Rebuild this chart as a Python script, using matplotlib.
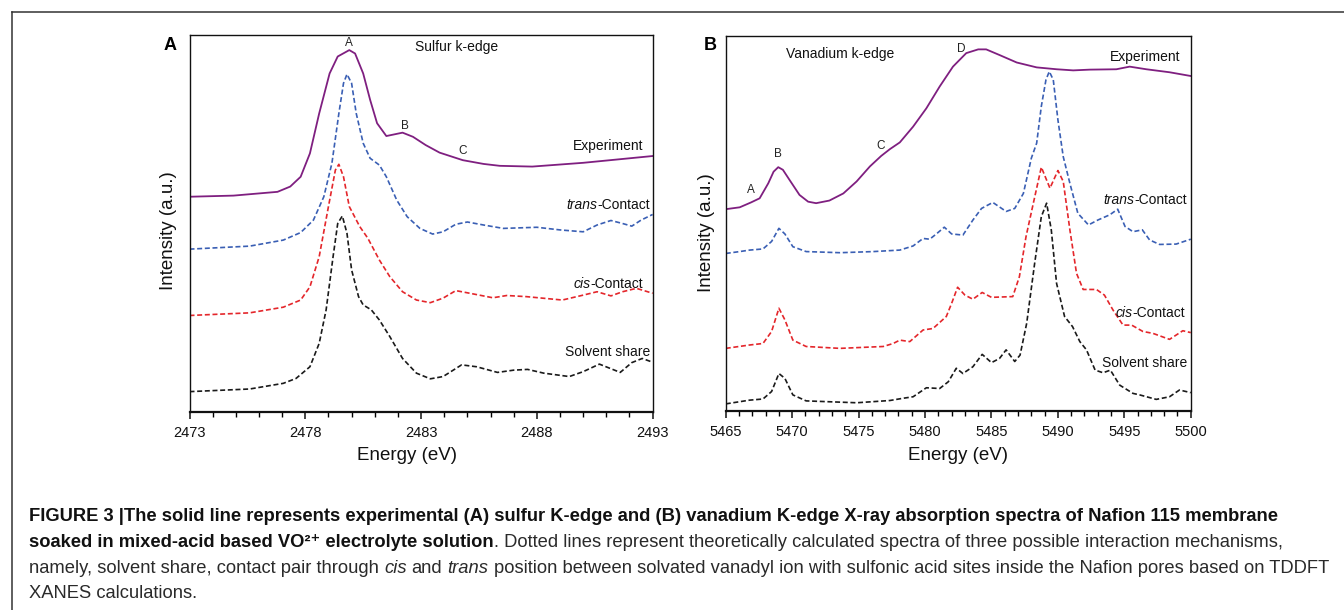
import matplotlib
matplotlib.use("Agg")
import matplotlib.pyplot as plt
from matplotlib.lines import Line2D
from matplotlib.ticker import MultipleLocator

plt.rcParams['font.family'] = ['Liberation Sans', 'DejaVu Sans']

# ---- panel A: sulfur K-edge (energy in eV, intensity in a.u. with offsets)
s_exp_e = [2473, 2474.9, 2476.8, 2477.35, 2477.8, 2478.2, 2478.6, 2479.05, 2479.4, 2479.9,
           2480.15, 2480.5, 2480.8, 2481.1, 2481.5, 2482.2, 2482.65, 2483.2, 2483.8, 2484.8,
           2485.7, 2486.4, 2487.8, 2490.0, 2493]
s_exp_i = [57.1, 57.4, 58.4, 59.8, 62.4, 68.6, 79.2, 89.8, 94.3, 96.0,
           95.1, 89.8, 82.8, 76.6, 73.2, 74.1, 73.0, 70.8, 68.8, 66.8,
           65.8, 65.3, 65.1, 66.1, 67.9]

s_trans_e = [2473, 2475.6, 2477.05, 2477.8, 2478.35, 2478.8, 2479.15, 2479.45, 2479.65, 2479.8,
             2480.0, 2480.2, 2480.5, 2480.8, 2481.2, 2481.5, 2481.95, 2482.4, 2482.95, 2483.5,
             2483.95, 2484.5, 2485.0, 2485.7, 2486.55, 2488.0, 2489.0, 2490.0, 2490.6, 2491.2,
             2491.7, 2492.1, 2492.5, 2493]
s_trans_i = [43.2, 44.0, 45.6, 47.6, 50.9, 57.1, 66.0, 79.2, 87.2, 89.6,
             87.2, 79.2, 71.3, 67.3, 65.5, 62.4, 56.2, 51.8, 48.7, 47.2,
             47.8, 49.8, 50.4, 49.6, 48.7, 49.0, 48.3, 47.8, 49.6, 50.8,
             50.0, 49.3, 50.9, 52.4]

s_cis_e = [2473, 2475.6, 2477.05, 2477.8, 2478.2, 2478.6, 2479.0, 2479.3, 2479.45, 2479.65,
           2479.9, 2480.35, 2480.7, 2481.2, 2481.65, 2482.2, 2482.8, 2483.4, 2483.95, 2484.5,
           2485.1, 2486.1, 2486.7, 2487.55, 2489.1, 2490.0, 2490.6, 2491.2, 2491.7, 2492.3, 2493]
s_cis_i = [25.6, 26.3, 27.8, 29.7, 33.2, 41.2, 54.5, 64.2, 65.7, 62.4,
           54.5, 49.2, 46.1, 40.3, 35.9, 31.9, 29.7, 29.0, 30.2, 32.2,
           31.5, 30.3, 30.9, 30.6, 29.7, 31.0, 31.9, 30.8, 31.9, 32.8, 31.5]

s_solv_e = [2473, 2475.6, 2477.05, 2477.6, 2478.2, 2478.6, 2478.9, 2479.2, 2479.4, 2479.6,
            2479.8, 2480.0, 2480.3, 2480.5, 2480.85, 2481.2, 2481.65, 2482.2, 2482.8, 2483.4,
            2483.95, 2484.75, 2485.4, 2486.3, 2487.0, 2487.6, 2488.3, 2489.4, 2490.0, 2490.7,
            2491.6, 2492.1, 2492.55, 2493]
s_solv_i = [5.4, 6.1, 7.6, 8.9, 12.0, 18.2, 27.1, 41.2, 50.0, 52.0,
            47.4, 37.7, 30.6, 28.4, 27.1, 24.4, 20.0, 14.2, 10.3, 8.8,
            9.4, 12.5, 12.0, 10.5, 11.1, 11.3, 10.3, 9.4, 10.7, 12.7,
            10.5, 13.1, 14.2, 13.2]

# ---- panel B: vanadium K-edge
v_exp_e = [5465, 5466.05, 5466.9, 5467.55, 5468.2, 5468.6, 5468.95, 5469.3, 5469.8, 5470.55,
           5471.2, 5471.8, 5472.8, 5473.85, 5474.85, 5475.85, 5476.7, 5477.35, 5478.1, 5479.1,
           5480.1, 5481.1, 5482.1, 5483.1, 5484.0, 5484.6, 5485.6, 5486.9, 5488.4, 5489.9,
           5491.15, 5492.4, 5494.4, 5495.4, 5496.65, 5498.4, 5500]
v_exp_i = [53.8, 54.3, 55.6, 56.7, 60.7, 63.8, 65.0, 64.3, 61.6, 57.6,
           55.8, 55.4, 56.1, 58.0, 61.2, 65.2, 68.0, 69.8, 71.6, 75.8,
           80.7, 86.5, 91.8, 95.4, 96.4, 96.4, 94.9, 92.9, 91.6, 91.1,
           90.8, 91.0, 91.1, 91.8, 91.1, 90.3, 89.3]

v_trans_e = [5465, 5466.05, 5466.8, 5467.8, 5468.45, 5469.0, 5469.45, 5470.05, 5471.05, 5473.6,
             5476.1, 5478.1, 5479.1, 5479.85, 5480.35, 5480.85, 5481.45, 5482.0, 5482.85, 5483.6,
             5484.25, 5485.1, 5486.1, 5486.75, 5487.4, 5488.0, 5488.4, 5488.75, 5489.1, 5489.35,
             5489.65, 5490.0, 5490.4, 5490.9, 5491.5, 5492.3, 5493.0, 5493.9, 5494.5, 5495.05,
             5495.65, 5496.35, 5496.9, 5497.65, 5498.9, 5500]
v_trans_i = [42.0, 42.5, 42.9, 43.2, 45.2, 48.7, 47.2, 43.8, 42.5, 42.2,
             42.5, 42.9, 44.0, 46.0, 45.8, 47.2, 49.0, 47.2, 46.9, 50.9,
             54.0, 55.6, 53.2, 54.0, 58.0, 67.4, 71.4, 81.2, 88.3, 90.5,
             88.3, 77.6, 67.8, 60.7, 52.7, 49.6, 50.9, 52.3, 53.8, 49.2,
             47.8, 48.3, 45.6, 44.4, 44.5, 45.8]

v_cis_e = [5465, 5466.8, 5467.8, 5468.45, 5469.0, 5469.45, 5470.05, 5471.05, 5473.6, 5476.85,
           5477.6, 5478.1, 5478.85, 5479.85, 5480.6, 5481.6, 5482.0, 5482.45, 5483.0, 5483.6,
           5484.3, 5485.0, 5486.6, 5487.1, 5487.6, 5488.15, 5488.75, 5489.4, 5490.0, 5490.4,
           5490.9, 5491.4, 5491.9, 5492.9, 5493.5, 5494.15, 5494.9, 5495.55, 5496.4, 5497.15,
           5498.4, 5499.4, 5500]
v_cis_i = [16.7, 17.6, 18.0, 21.2, 27.4, 24.3, 18.9, 17.2, 16.7, 17.2,
           18.0, 18.9, 18.5, 21.6, 22.0, 25.2, 28.7, 33.0, 30.9, 29.8,
           31.6, 30.3, 30.5, 35.8, 46.5, 55.4, 65.0, 59.4, 64.1, 61.2,
           48.3, 36.7, 32.4, 32.4, 30.9, 26.9, 22.9, 22.9, 21.2, 20.7,
           19.1, 21.4, 20.9]

v_solv_e = [5465, 5466.8, 5467.8, 5468.45, 5469.0, 5469.45, 5470.05, 5471.05, 5474.85, 5477.35,
            5478.35, 5479.1, 5480.1, 5481.1, 5481.75, 5482.35, 5482.85, 5483.6, 5484.3, 5485.0,
            5485.6, 5486.1, 5486.75, 5487.15, 5487.65, 5488.25, 5488.75, 5489.15, 5489.5, 5489.9,
            5490.5, 5491.1, 5491.65, 5492.15, 5492.8, 5493.4, 5493.95, 5494.65, 5495.65, 5496.15,
            5497.4, 5498.4, 5499.15, 5500]
v_solv_i = [1.9, 2.9, 3.2, 5.2, 10.0, 8.7, 4.3, 2.7, 2.2, 2.8,
            3.4, 3.8, 6.2, 6.0, 7.8, 11.4, 10.0, 11.8, 15.1, 12.9,
            14.0, 16.3, 13.2, 14.9, 23.4, 39.4, 51.8, 55.4, 48.3, 34.0,
            25.2, 22.5, 18.5, 16.3, 10.9, 10.2, 10.9, 6.9, 4.7, 4.3,
            3.1, 3.8, 5.6, 4.9]

s_ticks = [2473, 2478, 2483, 2488, 2493]
v_ticks = [5465, 5470, 5475, 5480, 5485, 5490, 5495, 5500]

# curve labels: (italic prefix, upright rest)
curve_labels = [('', 'Experiment'), ('trans', '-Contact'), ('cis', '-Contact'), ('', 'Solvent share')]

PURPLE = '#7f1f80'
BLUE = '#3a5fb4'
RED = '#e4262b'
BLACK = '#1a1a1a'
DASH = (0, (3.0, 1.6))

fig = plt.figure(figsize=(13.44, 6.10), dpi=100)

# page frame (top and left rules)
fig.add_artist(Line2D([12 / 1344, 1.0], [1 - 12 / 610, 1 - 12 / 610], transform=fig.transFigure,
                      color='#333333', lw=1.1))
fig.add_artist(Line2D([12 / 1344, 12 / 1344], [0.0, 1 - 12 / 610], transform=fig.transFigure,
                      color='#333333', lw=1.1))

axA = fig.add_axes([0.141, 0.3246, 0.3446, 0.618])
axB = fig.add_axes([0.540, 0.3262, 0.346, 0.615])


def style_axis(ax, xmin, xmax, ticks):
    ax.set_xlim(xmin, xmax)
    ax.set_ylim(0, 100)
    ax.set_yticks([])
    ax.set_xticks(ticks)
    ax.xaxis.set_minor_locator(MultipleLocator(1))
    ax.tick_params(axis='x', which='major', direction='out', length=5, width=1.1,
                   labelsize=10.5, pad=5, colors='#111111')
    ax.tick_params(axis='x', which='minor', direction='out', length=3.5, width=1.0)
    for name, sp in ax.spines.items():
        sp.set_color('#111111')
        sp.set_linewidth(1.0)
    ax.spines['bottom'].set_linewidth(1.6)
    ax.set_xlabel('Energy (eV)', fontsize=13.5, color='#111111')
    ax.set_ylabel('Intensity (a.u.)', fontsize=13.5, color='#111111')


style_axis(axA, 2473, 2493, s_ticks)
style_axis(axB, 5465, 5500, v_ticks)

# panel A curves
axA.plot(s_exp_e, s_exp_i, color=PURPLE, lw=1.3)
axA.plot(s_trans_e, s_trans_i, color=BLUE, lw=1.2, linestyle=DASH)
axA.plot(s_cis_e, s_cis_i, color=RED, lw=1.2, linestyle=DASH)
axA.plot(s_solv_e, s_solv_i, color=BLACK, lw=1.2, linestyle=DASH)

# panel B curves
axB.plot(v_exp_e, v_exp_i, color=PURPLE, lw=1.3)
axB.plot(v_trans_e, v_trans_i, color=BLUE, lw=1.2, linestyle=DASH)
axB.plot(v_cis_e, v_cis_i, color=RED, lw=1.2, linestyle=DASH)
axB.plot(v_solv_e, v_solv_i, color=BLACK, lw=1.2, linestyle=DASH)

# axis label placement
axA.xaxis.set_label_coords(0.47, -0.093)
axB.xaxis.set_label_coords(0.499, -0.096)
axA.yaxis.set_label_coords(-0.027, 0.48)
axB.yaxis.set_label_coords(-0.024, 0.475)

txt = dict(fontsize=10, color='#111111')


def curve_label(ax, x, y, prefix, rest):
    t = ax.text(x, y, rest, ha='right', va='baseline', **txt)
    if prefix:
        ax.annotate(prefix, xy=(0, 0), xycoords=t, ha='right', va='bottom', style='italic', **txt)


# annotations panel A
axA.text(2484.55, 96.8, 'Sulfur k-edge', ha='center', va='center', **txt)
for (pre, rest), (x, y) in zip(curve_labels, [(2492.6, 69.5), (2492.9, 53.8), (2492.6, 32.8), (2492.9, 14.8)]):
    curve_label(axA, x, y, pre, rest)
for lab, (x, y) in zip(['A', 'B', 'C'], [(2479.9, 97.9), (2482.3, 75.9), (2484.8, 69.2)]):
    axA.text(x, y, lab, ha='center', va='center', fontsize=8.5, color='#222222')

# annotations panel B
axB.text(5473.6, 95.2, 'Vanadium k-edge', ha='center', va='center', **txt)
for (pre, rest), (x, y) in zip(curve_labels, [(5499.2, 93.3), (5499.7, 55.3), (5499.6, 25.0), (5499.7, 11.7)]):
    curve_label(axB, x, y, pre, rest)
for lab, (x, y) in zip(['A', 'B', 'C', 'D'], [(5466.9, 58.8), (5468.95, 68.5), (5476.65, 70.7), (5482.75, 96.5)]):
    axB.text(x, y, lab, ha='center', va='center', fontsize=8.5, color='#222222')

# panel letters
fig.text(170 / 1344, 1 - 46 / 610, 'A', fontsize=13, fontweight='bold', ha='center', va='center')
fig.text(710 / 1344, 1 - 46 / 610, 'B', fontsize=13, fontweight='bold', ha='center', va='center')

# caption, written run by run so bold / italic pieces can share a line
cap_x = 29 / 1344
cap_fs = 13.2
renderer = fig.canvas.get_renderer()
FIG_W = 13.44 * 100


def text_width(s, **kw):
    t = fig.text(0, 0, s, fontsize=cap_fs, **kw)
    w = t.get_window_extent(renderer).width
    t.remove()
    return w


space_w = text_width('a a') - text_width('aa')


def caption_line(y_px, runs):
    x = cap_x
    for i, (s, kw) in enumerate(runs):
        if i > 0 and s.startswith(' '):
            x += space_w / FIG_W
            s = s[1:]
        t = fig.text(x, 1 - y_px / 610, s, fontsize=cap_fs, va='baseline', **kw)
        x += t.get_window_extent(renderer).width / FIG_W


BOLD = dict(fontweight='bold', color='#111111')
REG = dict(color='#2a2a2a')
ITAL = dict(style='italic', color='#2a2a2a')

caption_line(521, [('FIGURE 3 |The solid line represents experimental (A) sulfur K-edge and (B) vanadium '
                    'K-edge X-ray absorption spectra of Nafion 115 membrane', BOLD)])
caption_line(547, [('soaked in mixed-acid based VO\u00b2\u207a electrolyte solution', BOLD),
                   ('. Dotted lines represent theoretically calculated spectra of three possible '
                    'interaction mechanisms,', REG)])
caption_line(573, [('namely, solvent share, contact pair through', REG), (' cis', ITAL), (' and', REG),
                   (' trans', ITAL),
                   (' position between solvated vanadyl ion with sulfonic acid sites inside the Nafion '
                    'pores based on TDDFT', REG)])
caption_line(598, [('XANES calculations.', REG)])

fig.savefig('out.png', dpi=100)
